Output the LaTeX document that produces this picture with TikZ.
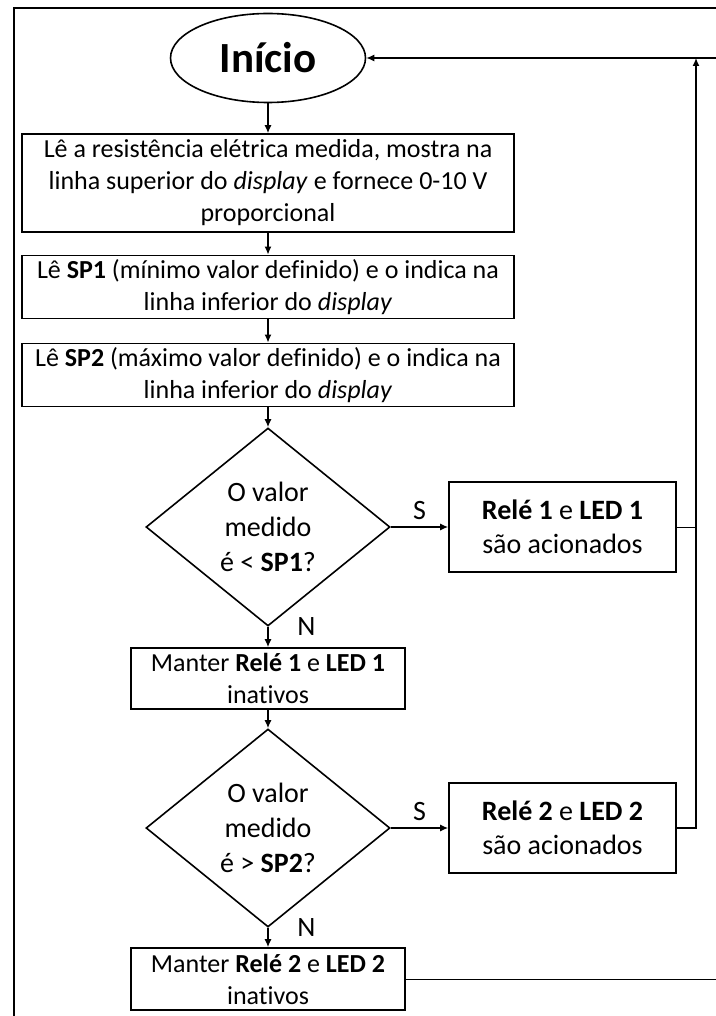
\documentclass[tikz,border=0pt]{standalone}
\usepackage{fontspec}
\setmainfont{Carlito}[Ligatures=NoCommon]
\usepackage{tikz}
\usetikzlibrary{shapes.geometric,arrows.meta}
\tikzset{
    process-box/.style = {draw, rectangle, line width=0.8pt, align=center, inner sep=2pt, font=\fontsize{13}{16}\selectfont},
    start-oval/.style = {draw, ellipse, line width=0.8pt, minimum width=97.5pt, minimum height=44.5pt, font=\fontsize{21.5}{24}\selectfont\bfseries},
    decision-diamond/.style = {draw, diamond, line width=0.8pt, minimum width=122pt, minimum height=99pt, inner sep=0pt, align=center, font=\fontsize{14}{17.5}\selectfont},
    branch-label/.style = {font=\fontsize{14}{16}\selectfont},
    flow-arrow/.style = {-{Latex[length=4pt,width=3.5pt]}, line width=0.7pt},
}

\begin{document}
\begin{tikzpicture}[x=0.5pt, y=-0.5pt]
\clip (0,0) rectangle (716,1016);
\draw[line width=1pt] (14,1030) |- (730,8);

\node[start-oval] (inicio) at (268,58) {Início};
\node[process-box, minimum width=246pt, minimum height=49pt] (leitura) at (268,183) {Lê a resistência elétrica medida, mostra na\\linha superior do \textit{display} e fornece 0-10 V\\proporcional};
\node[process-box, minimum width=246pt, minimum height=31pt] (sp1) at (268,287) {Lê \textbf{SP1} (mínimo valor definido) e o indica na\\linha inferior do \textit{display}};
\node[process-box, minimum width=246pt, minimum height=31pt] (sp2) at (268,375) {Lê \textbf{SP2} (máximo valor definido) e o indica na\\linha inferior do \textit{display}};
\node[decision-diamond] (teste1) at (268,527) {O valor\\medido\\é < \textbf{SP1}?};
\node[process-box, minimum width=113.5pt, minimum height=45pt, font=\fontsize{14}{17}\selectfont] (rele1) at (562.5,527) {\textbf{Relé 1} e \textbf{LED 1}\\são acionados};
\node[process-box, minimum width=137pt, minimum height=30.5pt] (manter1) at (268,678.5) {Manter \textbf{Relé 1} e \textbf{LED 1}\\inativos};
\node[decision-diamond] (teste2) at (268,828) {O valor\\medido\\é > \textbf{SP2}?};
\node[process-box, minimum width=113.5pt, minimum height=45pt, font=\fontsize{14}{17}\selectfont] (rele2) at (562.5,828) {\textbf{Relé 2} e \textbf{LED 2}\\são acionados};
\node[process-box, minimum width=137pt, minimum height=31pt] (manter2) at (268,979) {Manter \textbf{Relé 2} e \textbf{LED 2}\\inativos};

% main flow
\draw[flow-arrow] (inicio) -- (leitura);
\draw[flow-arrow] (leitura) -- (sp1);
\draw[flow-arrow] (sp1) -- (sp2);
\draw[flow-arrow] (sp2) -- (teste1);
\draw[flow-arrow] (teste1) -- node[branch-label, above] {S} (rele1);
\draw[flow-arrow] (teste1) -- node[branch-label, pos=0, right=11pt] {N} (manter1);
\draw[flow-arrow] (manter1) -- (teste2);
\draw[flow-arrow] (teste2) -- node[branch-label, above] {S} (rele2);
\draw[flow-arrow] (teste2) -- node[branch-label, pos=0, right=11pt] {N} (manter2);

% return paths
\coordinate (retorno) at (696,58);
\coordinate (borda) at (730,58);
\draw[flow-arrow] (rele2.east) -| (retorno);
\draw (rele1.east) -- (rele1.east -| retorno);
\draw[flow-arrow] (borda) -- (inicio);
\draw (manter2) -- (manter2 -| borda);
\end{tikzpicture}
\end{document}
